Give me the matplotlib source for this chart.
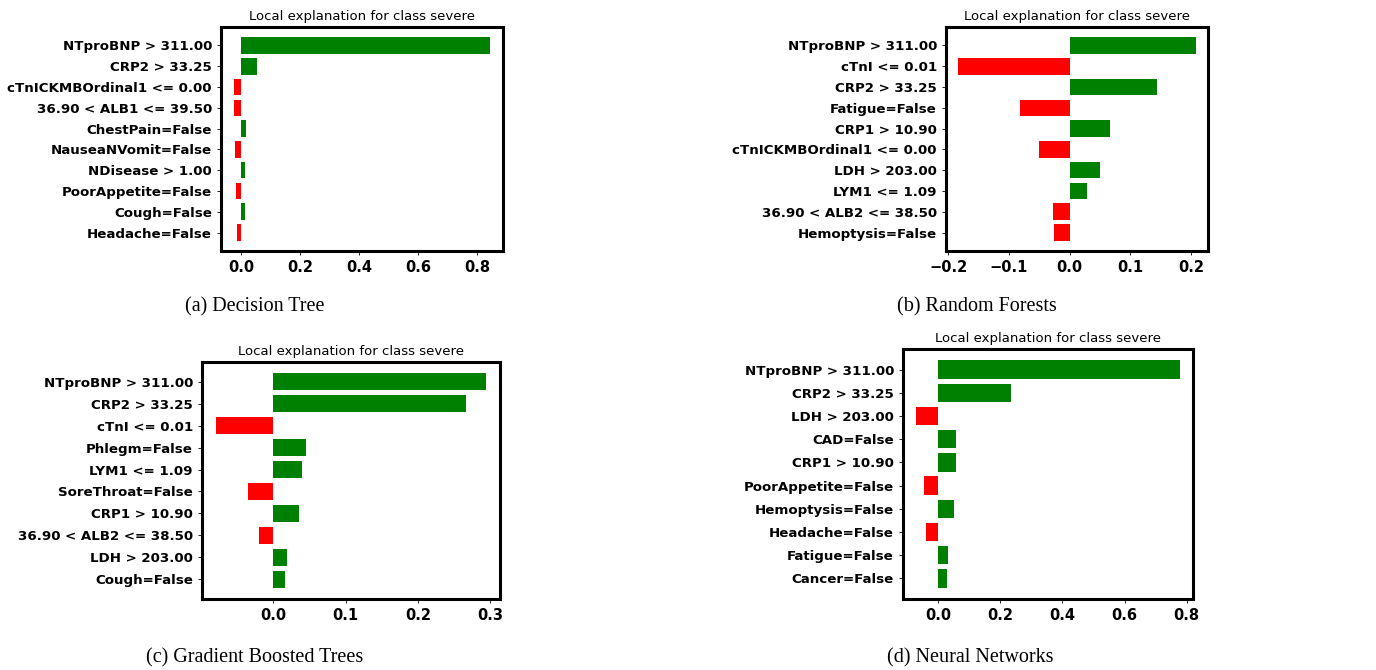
import matplotlib
matplotlib.use("Agg")
import matplotlib.pyplot as plt
import numpy as np

# ====== data ======
dt_features = ["NTproBNP > 311.00", "CRP2 > 33.25", "cTnICKMBOrdinal1 <= 0.00",
               "36.90 < ALB1 <= 39.50", "ChestPain=False", "NauseaNVomit=False",
               "NDisease > 1.00", "PoorAppetite=False", "Cough=False", "Headache=False"]
dt_weights = [0.844, 0.052, -0.026, -0.024, 0.016, -0.021, 0.013, -0.019, 0.013, -0.016]

rf_features = ["NTproBNP > 311.00", "cTnI <= 0.01", "CRP2 > 33.25", "Fatigue=False",
               "CRP1 > 10.90", "cTnICKMBOrdinal1 <= 0.00", "LDH > 203.00",
               "LYM1 <= 1.09", "36.90 < ALB2 <= 38.50", "Hemoptysis=False"]
rf_weights = [0.208, -0.184, 0.143, -0.082, 0.067, -0.051, 0.050, 0.028, -0.027, -0.026]

gb_features = ["NTproBNP > 311.00", "CRP2 > 33.25", "cTnI <= 0.01", "Phlegm=False",
               "LYM1 <= 1.09", "SoreThroat=False", "CRP1 > 10.90",
               "36.90 < ALB2 <= 38.50", "LDH > 203.00", "Cough=False"]
gb_weights = [0.295, 0.267, -0.080, 0.045, 0.039, -0.035, 0.035, -0.020, 0.019, 0.016]

nn_features = ["NTproBNP > 311.00", "CRP2 > 33.25", "LDH > 203.00", "CAD=False",
               "CRP1 > 10.90", "PoorAppetite=False", "Hemoptysis=False",
               "Headache=False", "Fatigue=False", "Cancer=False"]
nn_weights = [0.778, 0.235, -0.071, 0.058, 0.058, -0.046, 0.050, -0.038, 0.030, 0.028]

captions = ["(a) Decision Tree", "(b) Random Forests",
            "(c) Gradient Boosted Trees", "(d) Neural Networks"]
title = "Local explanation for class severe"

# ====== layout (pixel boxes: left, top, right, bottom) ======
W, H = 1376, 670
boxes = [(221, 27, 503, 251), (946, 27, 1208, 251),
         (202, 362, 500, 599), (903, 349, 1193, 599)]
caption_pos = [(255, 307), (977, 307), (255, 658), (970, 658)]
xticks = [[0.0, 0.2, 0.4, 0.6, 0.8], [-0.2, -0.1, 0.0, 0.1, 0.2],
          [0.0, 0.1, 0.2, 0.3], [0.0, 0.2, 0.4, 0.6, 0.8]]

panels = [(dt_features, dt_weights), (rf_features, rf_weights),
          (gb_features, gb_weights), (nn_features, nn_weights)]

fig = plt.figure(figsize=(W / 100, H / 100), dpi=100)

for i, (feats, vals) in enumerate(panels):
    l, t, r, b = boxes[i]
    ax = fig.add_axes([l / W, 1 - b / H, (r - l) / W, (b - t) / H])
    vals_r = np.array(vals[::-1])
    names_r = feats[::-1]
    pos = np.arange(len(vals_r)) + 0.5
    colors = ["green" if v > 0 else "red" for v in vals_r]
    ax.barh(pos, vals_r, align="center", color=colors, height=0.8)
    ax.set_yticks(pos)
    ax.set_yticklabels(names_r, fontweight="bold", fontsize=9.6)
    ax.set_xticks(xticks[i])
    ax.set_xticklabels([f"{v:.1f}".replace("-", "\u2212") for v in xticks[i]],
                       fontweight="bold", fontsize=10.5)
    ax.tick_params(length=3, width=0.6)
    for sp in ax.spines.values():
        sp.set_linewidth(2.2)
    ax.set_title(title, fontsize=9.5, pad=5)
    cx, cy = caption_pos[i]
    fig.text(cx / W, 1 - cy / H, captions[i], ha="center", va="center",
             family="Liberation Serif", fontsize=14.5)

fig.savefig("out.png", dpi=100)
